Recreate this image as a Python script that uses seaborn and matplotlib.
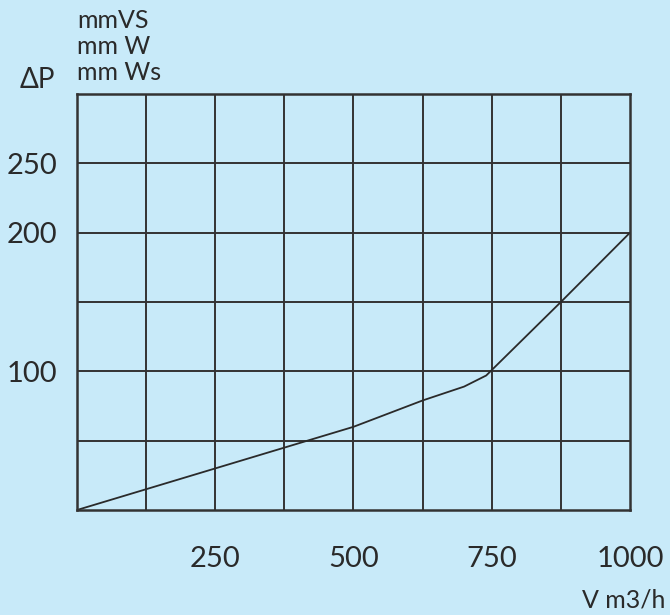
import pandas as pd
import numpy as np
import matplotlib.pyplot as plt
import seaborn as sns

# Datos de la curva (caudal vs. perdida de carga)
caudal = [0, 125, 500, 625, 700, 740, 875, 1000]
presion = [0, 15, 60, 79, 89, 97, 150, 200]

x_ticks = [250, 500, 750, 1000]
y_ticks = [100, 200, 250]
unidades = ['mmVS', 'mm W', 'mm Ws']

fondo = '#c8eaf9'
tinta = '#2a2a2a'

sns.set_style('white', {'axes.facecolor': fondo, 'figure.facecolor': fondo})
plt.rcParams['font.family'] = ['Lato', 'DejaVu Sans']

df = pd.DataFrame({'V': caudal, 'P': presion})

fig = plt.figure(figsize=(6.7, 6.15), dpi=100)
ax = fig.add_axes([0.1149, 0.1707, 0.8254, 0.6765])

sns.lineplot(data=df, x='V', y='P', ax=ax, color=tinta, linewidth=1.3)

ax.set_xlim(0, 1000)
ax.set_ylim(0, 300)

# rejilla de 8 x 6 celdas
for gx in np.arange(125, 1000, 125):
    ax.axvline(gx, color='#333333', linewidth=1.4, zorder=1)
for gy in np.arange(50, 300, 50):
    ax.axhline(gy, color='#333333', linewidth=1.4, zorder=1)

for s in ax.spines.values():
    s.set_color('#333333')
    s.set_linewidth(1.8)

ax.set_xticks(x_ticks)
ax.set_yticks(y_ticks)
ax.set_xticklabels([str(v) for v in x_ticks])
ax.set_yticklabels([str(v) for v in y_ticks])
ax.tick_params(axis='x', length=0, pad=26, labelsize=21, labelcolor=tinta)
ax.tick_params(axis='y', length=0, pad=14, labelsize=21, labelcolor=tinta)
ax.set_xlabel('')
ax.set_ylabel('')

# etiquetas de unidades
fig.text(20 / 670, 1 - 80 / 615, '\u0394P', fontsize=20, color=tinta, va='center', ha='left')
for i, u in enumerate(unidades):
    fig.text(77 / 670, 1 - (20 + 26.5 * i) / 615, u, fontsize=18, color=tinta, va='center', ha='left')
fig.text(665 / 670, 1 - 600 / 615, 'V m3/h', fontsize=18, color=tinta, va='center', ha='right')

fig.savefig('out.png', dpi=100, facecolor=fondo)
